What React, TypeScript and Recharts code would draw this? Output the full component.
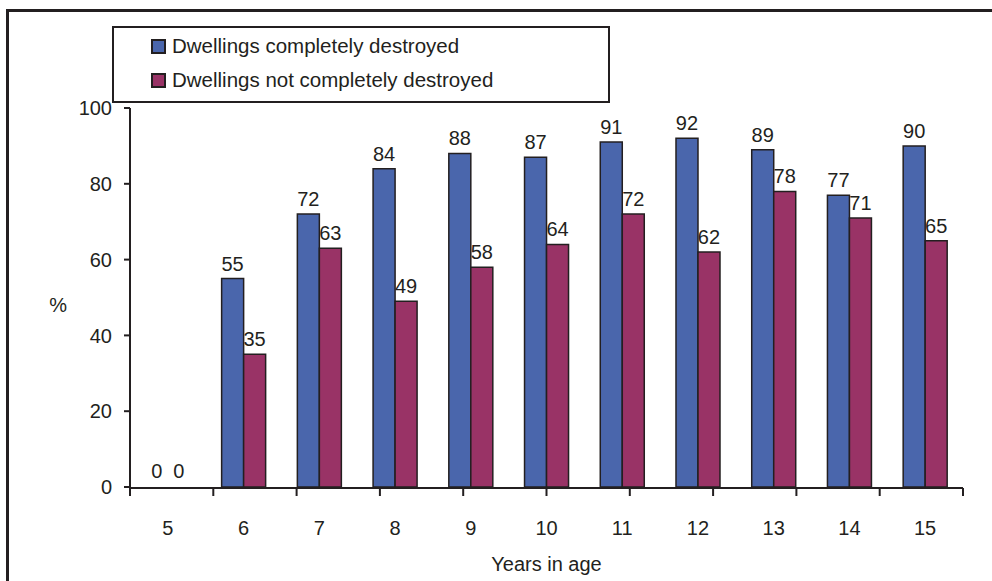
import React from "react"
import { BarChart, Bar, XAxis, YAxis, Legend, LabelList, Label, Rectangle } from "recharts"

const ages = ["5", "6", "7", "8", "9", "10", "11", "12", "13", "14", "15"]
const destroyed = [0, 55, 72, 84, 88, 87, 91, 92, 89, 77, 90]
const notDestroyed = [0, 35, 63, 49, 58, 64, 72, 62, 78, 71, 65]
const yTicks = [0, 20, 40, 60, 80, 100]
const slotTicks = [0, 1, 2, 3, 4, 5, 6, 7, 8, 9, 10, 11]

const seriesNames = ["Dwellings completely destroyed", "Dwellings not completely destroyed"]
const BLUE = "#4a66ac"
const PLUM = "#993366"
const INK = "#231f20"
const FONT = "'Liberation Sans', Arial, sans-serif"

const data = ages.map((age, i) => ({
  age,
  destroyed: destroyed[i],
  notDestroyed: notDestroyed[i],
}))

// zero values keep their label but draw no bar
const barShape = (key: string) => (props: any) =>
  props.payload && props.payload[key] === 0 ? <g /> : <Rectangle {...props} />

function LegendBox() {
  const items = [
    { name: seriesNames[0], color: BLUE },
    { name: seriesNames[1], color: PLUM },
  ]
  return (
    <div
      style={{
        width: 494,
        height: 72,
        border: `2px solid ${INK}`,
        background: "#fff",
        boxSizing: "content-box",
        fontFamily: FONT,
        fontSize: 20.5,
        color: INK,
        paddingTop: 1,
      }}
    >
      {items.map((it) => (
        <div key={it.name} style={{ display: "flex", alignItems: "center", height: 34, marginLeft: 37 }}>
          <span
            style={{
              display: "inline-block",
              width: 11,
              height: 11,
              background: it.color,
              border: `2px solid ${INK}`,
              marginRight: 6,
            }}
          />
          {it.name}
        </div>
      ))}
    </div>
  )
}

export default function App() {
  return (
    <div style={{ position: "absolute", left: 0, top: 0, width: 992, height: 581, overflow: "hidden", background: "#fff" }}>
      <div
        style={{
          position: "absolute",
          left: 6,
          top: 9,
          width: 1100,
          height: 700,
          borderLeft: `3px solid ${INK}`,
          borderTop: `3px solid ${INK}`,
        }}
      />
      <div style={{ position: "absolute", left: 0, top: 0 }}>
        <BarChart
          width={992}
          height={581}
          data={data}
          margin={{ top: 108, right: 29, bottom: 23, left: 70 }}
          barCategoryGap="21%"
          barGap={0}
        >
          <XAxis
            xAxisId="slots"
            type="number"
            domain={[0, 11]}
            ticks={slotTicks}
            tickFormatter={() => ""}
            tickSize={8}
            height={70}
            axisLine={{ stroke: INK, strokeWidth: 2 }}
            tickLine={{ stroke: INK, strokeWidth: 2 }}
          >
            <Label value="Years in age" position="bottom" offset={-1} fill={INK} fontSize={20} fontFamily={FONT} />
          </XAxis>
          <XAxis
            dataKey="age"
            height={1}
            axisLine={false}
            tickLine={false}
            tickSize={0}
            tickMargin={34}
            tick={{ fill: INK, fontSize: 20, fontFamily: FONT }}
            interval={0}
          />
          <YAxis
            width={60}
            domain={[0, 100]}
            ticks={yTicks}
            tickSize={6}
            tickMargin={12}
            axisLine={{ stroke: INK, strokeWidth: 2 }}
            tickLine={{ stroke: INK, strokeWidth: 2 }}
            tick={{ fill: INK, fontSize: 20, fontFamily: FONT }}
          >
            <Label value="%" position="left" offset={3} dy={7} fill={INK} fontSize={20} fontFamily={FONT} />
          </YAxis>
          <Legend
            layout="vertical"
            align="center"
            verticalAlign="middle"
            content={() => <LegendBox />}
            wrapperStyle={{ position: "absolute", left: 112, top: 26, width: "auto" }}
          />
          <Bar
            dataKey="destroyed"
            name={seriesNames[0]}
            fill={BLUE}
            stroke={INK}
            strokeWidth={1.5}
            minPointSize={1}
            shape={barShape("destroyed")}
            isAnimationActive={false}
          >
            <LabelList dataKey="destroyed" position="top" offset={8} fill={INK} fontSize={20} fontFamily={FONT} />
          </Bar>
          <Bar
            dataKey="notDestroyed"
            name={seriesNames[1]}
            fill={PLUM}
            stroke={INK}
            strokeWidth={1.5}
            minPointSize={1}
            shape={barShape("notDestroyed")}
            isAnimationActive={false}
          >
            <LabelList dataKey="notDestroyed" position="top" offset={8} fill={INK} fontSize={20} fontFamily={FONT} />
          </Bar>
        </BarChart>
      </div>
    </div>
  )
}
